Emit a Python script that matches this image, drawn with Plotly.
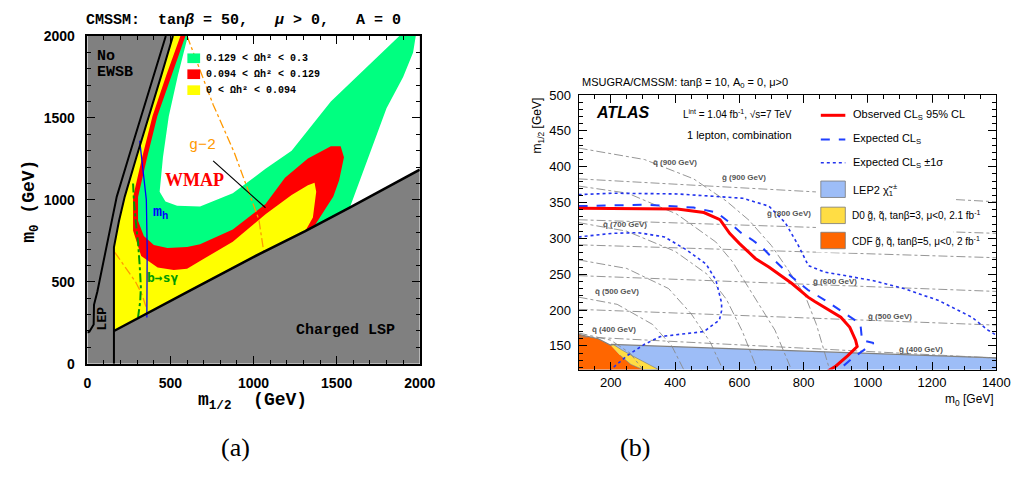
import plotly.graph_objects as go

W, H = 1029, 481

# ================= Panel (a) data (m1/2, m0 in GeV) =================
a_lsp_x = [160, 306, 600, 993, 1308, 1581, 1878, 2000]
a_lsp_y = [200, 280, 437, 648, 808, 955, 1115, 1185]
a_inner_x = [160, 160, 190, 225, 295, 372, 445, 515]
a_inner_y = [0, 710, 870, 1020, 1260, 1510, 1760, 2000]
a_outer_x = [0, 12, 38, 40, 60, 98, 138, 177, 250, 324, 400, 472]
a_outer_y = [190, 196, 240, 360, 440, 627, 824, 1020, 1265, 1510, 1755, 2000]

a_green_x = [605, 545, 490, 455, 435, 470, 540, 678, 875, 1072, 1229, 1465, 1877, 1976, 1960, 1900, 1800, 1700, 1630, 1580]
a_green_y = [2000, 1760, 1510, 1260, 1050, 990, 965, 960, 1040, 1190, 1300, 1600, 2000, 2000, 1900, 1750, 1560, 1290, 1100, 955]
a_red_x = [590, 505, 421, 360, 305, 305, 340, 400, 482, 600, 678, 875, 1072, 1189, 1327, 1465, 1524, 1544, 1515, 1480, 1426, 1372]
a_red_y = [2000, 1760, 1510, 1260, 1017, 873, 780, 725, 706, 712, 730, 820, 975, 1135, 1253, 1328, 1328, 1260, 1120, 1020, 932, 850]
a_yellow_x = [560, 475, 392, 330, 275, 275, 324, 423, 520, 600, 678, 875, 1072, 1229, 1327, 1367, 1377, 1357, 1318]
a_yellow_y = [2000, 1760, 1510, 1260, 1017, 814, 657, 588, 572, 580, 627, 745, 912, 1030, 1089, 1105, 1050, 893, 823]

a_mh_x = [315, 340, 355, 360, 358]
a_mh_y = [1361, 1150, 1000, 700, 283]
a_bsg_x = [275, 280, 292, 305, 315, 322, 318, 305]
a_bsg_y = [1100, 1000, 860, 740, 600, 470, 380, 283]
a_g2_x = [600, 757, 885, 983, 1032, 1062]
a_g2_y = [2000, 1581, 1286, 1010, 880, 680]
a_g2b_x = [165, 230, 290, 330, 355]
a_g2b_y = [680, 590, 500, 420, 340]
a_wmap_x = [757, 1072]
a_wmap_y = [1238, 952]

a_legend_labels = ["0.129 &lt; Ωh² &lt; 0.3", "0.094 &lt; Ωh² &lt; 0.129", "0 &lt; Ωh² &lt; 0.094"]
a_colors = {"gray": "#808080", "green": "#00ff80", "red": "#ff0000", "yellow": "#ffff00"}

# ================= Panel (b) data (m0, m1/2 in GeV) =================
b_obs_x = [100, 305, 407, 490, 540, 570, 600, 650, 692, 764, 814, 835, 916, 944, 962, 967, 937, 901, 876]
b_obs_y = [342, 342, 341, 336, 326, 307, 293, 272, 260, 237, 218, 212, 190, 176, 158, 149, 136, 122, 115]
b_exp_x = [100, 305, 458, 530, 570, 605, 640, 670, 713, 764, 814, 866, 916, 977, 982, 1018, 947, 906]
b_exp_y = [345, 347, 343, 336, 322, 308, 298, 288, 268, 246, 228, 214, 199, 181, 158, 154, 131, 115]
b_up_x = [100, 204, 407, 611, 692, 743, 784, 815, 866, 1018, 1120, 1222, 1324, 1374, 1400]
b_up_y = [361, 363, 362, 356, 345, 322, 290, 262, 253, 241, 229, 213, 190, 172, 165]
b_lo_x = [100, 204, 285, 367, 436, 497, 527, 545, 545, 538, 490, 405, 354, 304, 253, 200]
b_lo_y = [302, 307, 308, 302, 284, 264, 242, 210, 199, 186, 170, 166, 163, 152, 137, 117]

b_lep_x = [100, 202, 1400, 1400, 100]
b_lep_y = [154.5, 152, 133.3, 100, 100]
b_cdf_x = [100, 161, 200, 229, 263, 300, 300, 100]
b_cdf_y = [166, 160, 151, 137, 124, 117, 100, 100]
b_d0_x = [200, 208, 232, 268, 349, 300, 263, 229]
b_d0_y = [151, 152, 145, 136, 117, 117, 124, 137]

b_gluino_mass = [900, 800, 700, 600, 500, 400]
b_gluino_left = [383, 326, 291, 248, 201, 163]
b_gluino_right = [351, 307, 273, 226, 179, 133]
b_squark_x = {
    900: [100, 305, 458, 560, 631, 700, 743, 804, 840, 866, 881],
    800: [100, 253, 405, 527, 578, 650, 711, 762],
    700: [100, 250, 400, 500, 560, 610, 656],
    600: [100, 250, 380, 450, 510, 549],
    500: [100, 220, 330, 390, 427],
    400: [100, 200, 260, 300],
}
b_squark_y = {
    900: [426, 410, 383, 352, 325, 290, 262, 221, 180, 140, 117],
    800: [373, 363, 334, 295, 268, 217, 172, 117],
    700: [322, 310, 282, 250, 215, 170, 117],
    600: [270, 258, 230, 195, 155, 117],
    500: [218, 208, 180, 150, 117],
    400: [168, 158, 140, 117],
}
b_mass_labels = [("q", 900, 684, 160), ("g", 900, 755, 175), ("g", 800, 801, 213),
                 ("q", 700, 633, 224), ("g", 600, 847, 283), ("q", 500, 625, 293),
                 ("g", 500, 904, 319), ("q", 400, 622, 333), ("g", 400, 935, 353)]

fig = go.Figure()


def PX(px):
    return px / W


def PY(py):
    return 1 - py / H


def poly(xs, ys, color, xa="x", ya="y", lc=None, lw=0):
    fig.add_trace(go.Scatter(x=xs, y=ys, mode="lines", fill="toself", fillcolor=color,
                             line=dict(width=lw, color=lc or color), hoverinfo="skip",
                             showlegend=False, xaxis=xa, yaxis=ya))


def line(xs, ys, color, width, dash="solid", xa="x", ya="y"):
    fig.add_trace(go.Scatter(x=xs, y=ys, mode="lines", line=dict(color=color, width=width, dash=dash),
                             hoverinfo="skip", showlegend=False, xaxis=xa, yaxis=ya))


def region(edge_x, edge_y):
    tail = [(x, y) for x, y in zip(a_lsp_x, a_lsp_y) if x < edge_x[-1]][::-1]
    xs = a_inner_x[1:] + edge_x + [t[0] for t in tail]
    ys = a_inner_y[1:] + edge_y + [t[1] for t in tail]
    return xs, ys


AMAX = 2000
wx, wy = region([AMAX, AMAX], [AMAX, a_lsp_y[-1]])
poly(wx, wy, "white")
poly(*region(a_green_x, a_green_y), a_colors["green"])
poly(*region(a_red_x, a_red_y), a_colors["red"])
poly(*region(a_yellow_x, a_yellow_y), a_colors["yellow"])

line(a_g2_x, a_g2_y, "#ff9900", 1.3, "dashdot")
line(a_g2b_x, a_g2b_y, "#ff9900", 1.3, "dashdot")
line(a_bsg_x, a_bsg_y, "#009a00", 2, "dashdot")
line(a_mh_x, a_mh_y, "#0000ff", 1.3)
line(a_wmap_x, a_wmap_y, "black", 1.2)
line(a_outer_x, a_outer_y, "black", 2)
line(a_inner_x, a_inner_y, "black", 2)
line(a_lsp_x, a_lsp_y, "black", 2.5)

# ---------------- Panel (b) ----------------
poly(b_lep_x, b_lep_y, "#9dbdf7", "x2", "y2")
poly(b_cdf_x, b_cdf_y, "#ff6600", "x2", "y2")
poly(b_d0_x, b_d0_y, "#ffdd44", "x2", "y2", lc="#777", lw=0.6)
line(b_cdf_x[:3] + b_lep_x[1:3], b_cdf_y[:3] + b_lep_y[1:3], "#808080", 1.2, xa="x2", ya="y2")
for m, yl, yr in zip(b_gluino_mass, b_gluino_left, b_gluino_right):
    line([100, 1400], [yl, yr], "#8a8a8a", 0.9, "dashdot", "x2", "y2")
for m in b_squark_x:
    line(b_squark_x[m], b_squark_y[m], "#8a8a8a", 0.9, "dashdot", "x2", "y2")
line(b_up_x, b_up_y, "#2233ee", 1.6, "dot", "x2", "y2")
line(b_lo_x, b_lo_y, "#2233ee", 1.6, "dot", "x2", "y2")
line(b_exp_x, b_exp_y, "#1f3fff", 2, "dash", "x2", "y2")
line(b_obs_x, b_obs_y, "#ff0000", 3, "solid", "x2", "y2")

shapes = []
shapes.append(dict(type="rect", xref="x", yref="y", x0=0, x1=AMAX, y0=0, y1=AMAX,
                   fillcolor=a_colors["gray"], line=dict(width=0), layer="below"))
for i, c in enumerate(["green", "red", "yellow"]):
    y0 = 47 + i * 16.5
    shapes.append(dict(type="rect", xref="paper", yref="paper", x0=PX(187), x1=PX(200),
                       y0=PY(y0 + 10), y1=PY(y0), fillcolor=a_colors[c], line=dict(width=0), layer="above"))
shapes.append(dict(type="rect", xref="paper", yref="paper", x0=PX(828), x1=PX(968), y0=PY(253), y1=PY(98),
                   fillcolor="white", line=dict(width=0), layer="above"))
shapes.append(dict(type="line", xref="paper", yref="paper", x0=PX(833), x1=PX(858), y0=PY(111), y1=PY(111),
                   line=dict(color="#ff0000", width=3), layer="above"))
shapes.append(dict(type="line", xref="paper", yref="paper", x0=PX(833), x1=PX(858), y0=PY(136), y1=PY(136),
                   line=dict(color="#1f3fff", width=2, dash="dash"), layer="above"))
shapes.append(dict(type="line", xref="paper", yref="paper", x0=PX(833), x1=PX(858), y0=PY(160), y1=PY(160),
                   line=dict(color="#2233ee", width=1.6, dash="dot"), layer="above"))
for y0, col in [(179, "#9dbdf7"), (206, "#ffdd44"), (232, "#ff6600")]:
    shapes.append(dict(type="rect", xref="paper", yref="paper", x0=PX(833), x1=PX(858), y0=PY(y0 + 17), y1=PY(y0),
                       fillcolor=col, line=dict(color="#777", width=0.8), layer="above"))

ann = []


def A(text, px, py, size, color="black", xa="center", ya="middle", fam="Liberation Sans", weight="normal",
      angle=0, bg=None):
    d = dict(text=text, x=PX(px), y=PY(py), xref="paper", yref="paper", showarrow=False, xanchor=xa,
             yanchor=ya, textangle=angle, font=dict(size=size, color=color, family=fam, weight=weight))
    if bg:
        d["bgcolor"] = bg
        d["borderpad"] = 0
    ann.append(d)


MONO = "Liberation Mono"
nb = "\u00a0"
A("CMSSM:" + nb * 2 + "tan<i>β</i> = 50," + nb * 3 + "<i>μ</i> &gt; 0," + nb * 3 + "A = 0", 244, 13, 15,
  fam=MONO, weight="bold")
for i, t in enumerate(a_legend_labels):
    A(t, 204, 52.5 + i * 16.5, 10, xa="left", fam=MONO, weight="bold")
A("No", 93, 50, 15, xa="left", fam=MONO, weight="bold")
A("EWSB", 93, 66.5, 15, xa="left", fam=MONO, weight="bold")
A("Charged LSP", 348, 334, 15, fam=MONO, weight="bold")
A("WMAP", 194, 178, 18, color="#ff0000", fam="Liberation Serif", weight="bold")
A("g−2", 202, 142, 15, color="#ff9900", fam=MONO)
A("m<sub>h</sub>", 160, 212, 15, color="#0000ff", fam=MONO, weight="bold")
A("b→sγ", 162, 279, 13, color="#009a00", fam="DejaVu Sans Mono", weight="bold")
A("LEP", 100, 321, 13, fam=MONO, weight="bold", angle=-90)
A("m<sub>0</sub>" + nb + "(GeV)", 27, 200, 18, fam=MONO, weight="bold", angle=-90)
A("m<sub>1/2</sub>" + nb * 2 + "(GeV)", 253, 407, 18, fam=MONO, weight="bold")
A("(a)", 236, 455, 26, fam="Liberation Serif")
A("(b)", 643, 455, 26, fam="Liberation Serif")

A("MSUGRA/CMSSM: tanβ = 10, A<sub>0</sub> = 0, μ&gt;0", 587, 78, 11, xa="left")
A("<i>ATLAS</i>", 602, 108, 16, xa="left", weight="bold")
A("L<sup>int</sup> = 1.04 fb<sup>-1</sup>, √s=7 TeV", 690, 110, 10, xa="left")
A("1 lepton, combination", 695, 131, 11, xa="left")
A("Observed CL<sub>S</sub> 95% CL", 864, 111, 11, xa="left")
A("Expected CL<sub>S</sub>", 864, 136, 11, xa="left")
A("Expected CL<sub>S</sub> ±1σ", 864, 160, 11, xa="left")
A("LEP2 χ̃<sub>1</sub><sup>±</sup>", 864, 188, 11, xa="left")
A("D0 g̃, q̃, tanβ=3, μ&lt;0, 2.1 fb<sup>-1</sup>", 864, 214.5, 10, xa="left", bg="white")
A("CDF g̃, q̃, tanβ=5, μ&lt;0, 2 fb<sup>-1</sup>", 864, 240.5, 10, xa="left", bg="white")
for kind, m, px, py in b_mass_labels:
    A(kind + "\u0303 (" + str(m) + " GeV)", px, py, 8, color="#555555", weight="bold")
A("m<sub>1/2</sub> [GeV]", 545, 121, 12, angle=-90)
A("m<sub>0</sub> [GeV]", 1012, 405, 12, xa="right")

axis_a = dict(showline=True, linecolor="black", linewidth=1.5, mirror="allticks", ticks="inside",
              ticklen=8, tickwidth=1.2, tickcolor="black", showgrid=False, zeroline=False,
              range=[0, AMAX], dtick=500, tick0=0,
              minor=dict(ticks="inside", ticklen=4, dtick=100, tickcolor="black", tickwidth=1),
              tickfont=dict(size=14, family="Liberation Sans", weight="bold", color="black"))
axis_b = dict(showline=True, linecolor="black", linewidth=1, mirror="allticks", ticks="inside",
              ticklen=8, tickwidth=1, tickcolor="black", showgrid=False, zeroline=False,
              tickfont=dict(size=13, family="Liberation Sans", color="black"))

fig.update_layout(
    width=W, height=H, margin=dict(l=0, r=0, t=0, b=0), autosize=False,
    paper_bgcolor="white", plot_bgcolor="rgba(0,0,0,0)", showlegend=False,
    font=dict(family="Liberation Sans", color="black"),
    xaxis=dict(axis_a, domain=[85 / W, 424 / W], anchor="y", ticklabelstandoff=6),
    yaxis=dict(axis_a, domain=[1 - 368 / H, 1 - 29 / H], anchor="x", ticklabelstandoff=8),
    xaxis2=dict(axis_b, domain=[586 / W, 1012 / W], anchor="y2", range=[100, 1400], dtick=200, tick0=0,
                ticklabelstandoff=1,
                minor=dict(ticks="inside", ticklen=4, dtick=50, tickcolor="black")),
    yaxis2=dict(axis_b, domain=[1 - 374 / H, 1 - 90 / H], anchor="x2", range=[117, 500], dtick=50, tick0=0,
                ticklabelstandoff=4,
                minor=dict(ticks="inside", ticklen=4, dtick=10, tickcolor="black")),
    shapes=shapes, annotations=ann,
)

fig.write_html("out.html")
